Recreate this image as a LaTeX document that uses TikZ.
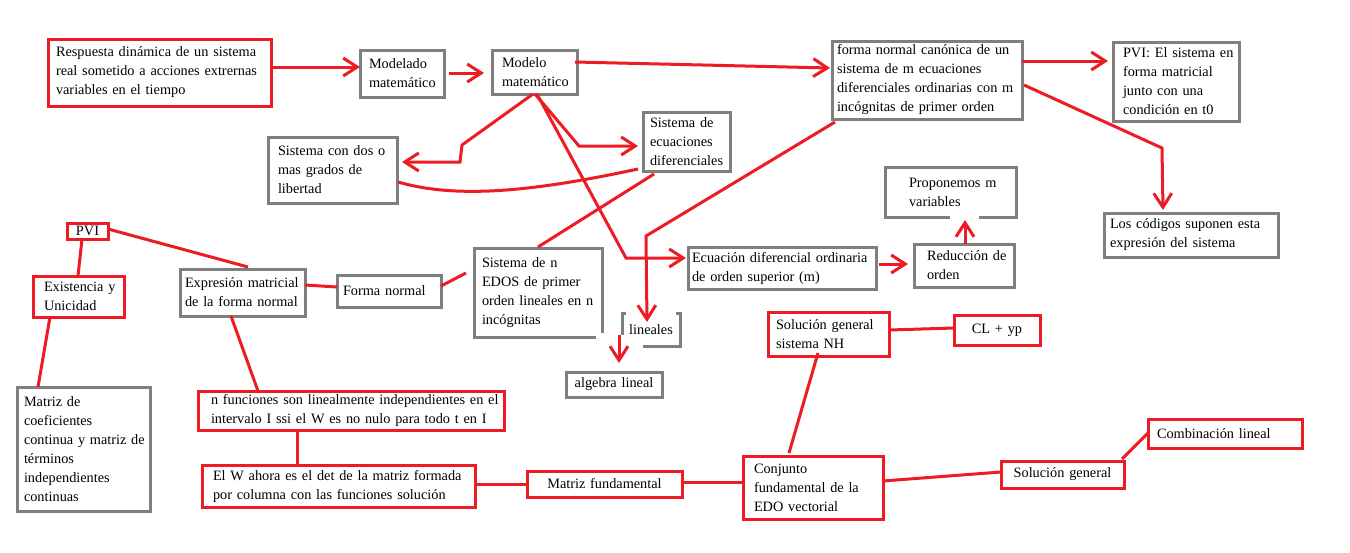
\documentclass[tikz,border=0pt]{standalone}
\usepackage{fontspec}
\setmainfont{Liberation Serif}
\usetikzlibrary{arrows.meta,calc}
\definecolor{pred}{RGB}{237,28,36}
\definecolor{pgray}{RGB}{127,127,127}
\newcommand{\bx}[8]{%
  \pgfmathsetmacro{\bxw}{#5-#3}%
  \pgfmathsetmacro{\bxh}{#6-#4}%
  \pgfmathsetmacro{\bxt}{#5-#3-2*#7}%
  \pgfmathsetmacro{\bxx}{(#3+#5)/2}%
  \pgfmathsetmacro{\bxy}{(#4+#6)/2}%
  \node[basebox,#2,minimum width=\bxw pt,minimum height=\bxh pt,text width=\bxt pt,inner xsep=#7 pt] (#1) at (\bxx,\bxy) {#8};}
\begin{document}
\begin{tikzpicture}[x=1pt,y=-1pt,
  basebox/.style={rectangle,outer sep=0pt,align=left,font=\fontsize{14.3}{19}\selectfont,text=black},
  redbox/.style={draw=pred,line width=3pt},
  graybox/.style={draw=pgray,line width=3pt},
  nobox/.style={},
  ctr/.style={align=center},
  gline/.style={draw=pgray,line width=3pt},
  ln/.style={draw=pred,line width=3pt},
  ar/.style={ln,-{Straight Barb[length=14pt,width=18pt]}}]
\fill[white] (0,0) rectangle (1350,552);
\useasboundingbox (0,0) rectangle (1350,552);
% boxes
\bx{resp}{redbox}{48}{39}{271}{106}{8}{\mbox{Respuesta dinámica de un sistema}\\\mbox{real sometido a acciones extrernas}\\\mbox{variables en el tiempo}}
\bx{modelado}{graybox}{360}{50}{444}{97}{9}{\mbox{Modelado}\\\mbox{matemático}}
\bx{modelo}{graybox}{492}{50}{577}{94}{10}{\mbox{Modelo}\\\mbox{matemático}}
\bx{forma}{graybox}{832}{41}{1022}{119}{5}{\mbox{forma normal canónica de un}\\\mbox{sistema de m ecuaciones}\\\mbox{diferenciales ordinarias con m}\\\mbox{incógnitas de primer orden}}
\bx{pvie}{graybox}{1113}{42}{1239}{121}{10}{\mbox{PVI: El sistema en}\\\mbox{forma matricial}\\\mbox{junto con una}\\\mbox{condición en t0}}
\bx{dos}{graybox}{268}{137}{397}{203}{10}{\mbox{Sistema con dos o}\\\mbox{mas grados de}\\\mbox{libertad}}
\bx{ecs}{graybox}{643}{112}{730}{171}{7}{\mbox{Sistema de}\\\mbox{ecuaciones}\\\mbox{diferenciales}}
\bx{prop}{nobox}{885}{167}{1016}{217}{24}{\mbox{Proponemos m}\\\mbox{variables}}
\bx{codigos}{graybox}{1104}{213}{1278}{257}{6}{\mbox{Los códigos suponen esta}\\\mbox{expresión del sistema}}
\bx{pvi}{redbox,ctr,inner ysep=1pt}{67}{223}{108}{239}{1}{PVI}
\bx{exist}{redbox}{33}{276}{124}{317}{11}{\mbox{Existencia y}\\\mbox{Unicidad}}
\bx{expr}{graybox}{180}{269}{305}{316}{5}{\mbox{Expresión matricial}\\\mbox{de la forma normal}}
\bx{fnorm}{graybox}{337}{275}{441}{307}{6}{\mbox{Forma normal}}
\bx{edos}{nobox}{474}{248}{602}{337}{8}{\mbox{Sistema de n}\\\mbox{EDOS de primer}\\\mbox{orden lineales en n}\\\mbox{incógnitas}}
\bx{lin}{nobox,ctr}{622}{313}{680}{346}{1}{lineales}
\bx{alg}{graybox,ctr}{566}{372}{662}{397}{1}{algebra lineal}
\bx{edo}{graybox}{688}{247}{876}{289}{4}{\mbox{Ecuación diferencial ordinaria}\\\mbox{de orden superior (m)}}
\bx{red}{graybox}{914}{244}{1014}{287}{13}{\mbox{Reducción de}\\\mbox{orden}}
\bx{solnh}{redbox}{768}{312}{889}{356}{8}{\mbox{Solución general}\\\mbox{sistema NH}}
\bx{cl}{redbox,ctr}{954}{315}{1040}{345}{1}{CL + yp}
\bx{matriz}{graybox}{17}{387}{150}{511}{7}{\mbox{Matriz de}\\\mbox{coeficientes}\\\mbox{continua y matriz de}\\\mbox{términos}\\\mbox{independientes}\\\mbox{continuas}}
\bx{nfun}{redbox}{198}{391}{504}{430}{13}{\mbox{n funciones son linealmente independientes en el}\\\mbox{intervalo I ssi el W es no nulo para todo t en I}}
\bx{wdet}{redbox}{202}{465}{475}{507}{11}{\mbox{El W ahora es el det de la matriz formada}\\\mbox{por columna con las funciones solución}}
\bx{mfund}{redbox,ctr}{527}{471}{682}{497}{1}{Matriz fundamental}
\bx{conj}{redbox}{743}{456}{883}{519}{11}{\mbox{Conjunto}\\\mbox{fundamental de la}\\\mbox{EDO vectorial}}
\bx{solg}{redbox,ctr}{1001}{461}{1124}{488}{1}{Solución general}
\bx{comb}{redbox}{1148}{419}{1302}{448}{9}{\mbox{Combinación lineal}}
% partial borders
\draw[gline] ($(edos.south east)+(0,-4)$) -- (edos.north east) -- (edos.north west) -- (edos.south west) -- ++(122,0);
\draw[gline] ($(prop.south west)+(65,0)$) -- (prop.south west) -- (prop.north west) -- (prop.north east) -- (prop.south east) -- ++(-37,0);
\draw[gline] ($(lin.north west)+(4,0)$) -- (lin.north west) -- ++(0,22);
\draw[gline] ($(lin.north east)+(-4,0)$) -- (lin.north east) -- (lin.south east) -- ++(-37,0);
% connectors
\draw[ar] ($(resp.north east)+(0,28)$) -- ($(modelado.north west)+(0,17)$);
\draw[ar] ($(modelado.north east)+(5,23)$) -- ($(modelo.north west)+(-8,23)$);
\draw[ar] ($(modelo.north east)+(-2,12)$) -- ($(forma.north west)+(-2,27)$);
\draw[ar] ($(forma.north east)+(0,20)$) -- ($(pvie.north west)+(-5,19)$);
\draw[ar] ($(forma.north east)+(2,44)$) -- ($(codigos.north west)+(58,-65)$) -- ($(codigos.north west)+(59,-3)$);
\draw[ar] ($(modelo.south west)+(41,0)$) -- ($(dos.north east)+(65,8)$) -- ($(dos.north east)+(63,25)$) -- ($(dos.north east)+(5,25)$);
\draw[ar] ($(modelo.south west)+(43,0)$) -- ($(ecs.north west)+(-64,34)$) -- ($(ecs.north west)+(-5,34)$);
\draw[ar] ($(modelo.south west)+(45,0)$) -- ($(edo.north west)+(-62,11)$) -- ($(edo.north west)+(-2,11)$);
\draw[ln] ($(ecs.north west)+(-5,57)$) .. controls +(-98,21) and +(62,18) .. ($(dos.north east)+(1,45)$);
\draw[ln] ($(ecs.south west)+(11,3)$) -- ($(edos.north west)+(64,-1)$);
\draw[ar] ($(forma.south west)+(3,3)$) -- ($(lin.north west)+(24,-77)$) -- ($(lin.north west)+(25,9)$);
\draw[ar] ($(lin.north west)+(-3,22)$) -- ($(alg.north west)+(53,-9)$);
\draw[ar] ($(edo.north east)+(3,17)$) -- ($(red.north west)+(-6,20)$);
\draw[ar] ($(red.north west)+(51,0)$) -- ($(prop.south west)+(80,3)$);
\draw[ln] ($(edos.north west)+(-8,25)$) -- ($(fnorm.north east)+(0,11)$);
\draw[ln] ($(fnorm.north west)+(0,12)$) -- ($(expr.north east)+(0,16)$);
\draw[ln] ($(pvi.north east)+(0,6)$) -- ($(expr.north west)+(68,-2)$);
\draw[ln] ($(pvi.south west)+(15,0)$) -- ($(exist.north west)+(45,0)$);
\draw[ln] ($(exist.south west)+(17,0)$) -- ($(matriz.north west)+(21,0)$);
\draw[ln] ($(expr.south west)+(51,0)$) -- ($(nfun.north west)+(60,0)$);
\draw[ln] ($(nfun.south west)+(99,0)$) -- ($(wdet.north west)+(95,0)$);
\draw[ln] ($(wdet.north east)+(0,19)$) -- ($(mfund.north west)+(0,13)$);
\draw[ln] ($(mfund.north east)+(0,11)$) -- ($(conj.north west)+(0,26)$);
\draw[ln] ($(conj.north east)+(0,25)$) -- ($(solg.north west)+(0,11)$);
\draw[ln] ($(solg.north east)+(-2,-2)$) -- ($(comb.south west)+(0,-15)$);
\draw[ln] ($(solnh.north east)+(0,18)$) -- ($(cl.north west)+(0,13)$);
\draw[ln] ($(solnh.south west)+(50,-3)$) -- ($(conj.north west)+(46,-3)$);
\end{tikzpicture}
\end{document}
